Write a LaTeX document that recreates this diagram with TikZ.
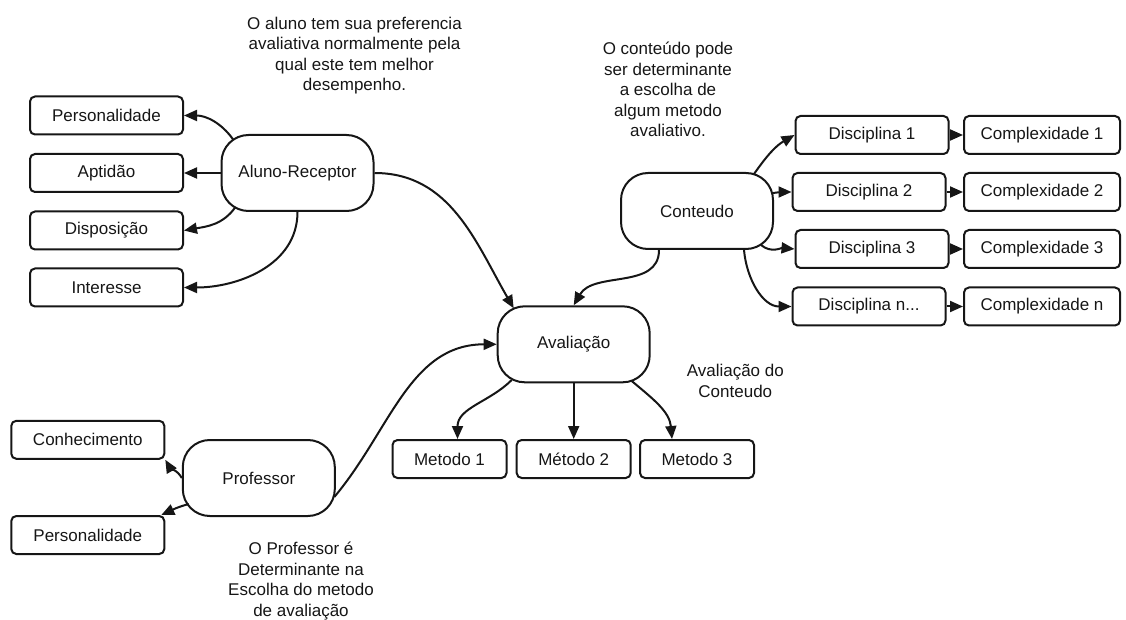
\documentclass[tikz,border=0pt]{standalone}
\usepackage{fontspec}
\setmainfont{Liberation Sans}
\usetikzlibrary{arrows.meta}
\definecolor{ink}{HTML}{161616}
\begin{document}
\begin{tikzpicture}[x=1pt,y=1pt,
  every node/.style={font=\fontsize{17}{20.5}\selectfont, text=ink},
  bigbox/.style={draw=ink, line width=2pt, rounded corners=27pt,
    minimum width=152pt, minimum height=76pt, inner sep=0pt},
  smallbox/.style={draw=ink, line width=2pt, rounded corners=5pt,
    minimum width=153pt, minimum height=38pt, inner sep=0pt},
  methodbox/.style={smallbox, minimum width=114pt},
  compbox/.style={smallbox, minimum width=156pt},
  note/.style={align=center, inner sep=0pt},
  link/.style={draw=ink, line width=2pt, -{Triangle[length=13pt,width=11pt]}}
]
\useasboundingbox (0,0) rectangle (1126,619);

% --- central nodes
\node[bigbox] (ar)   at (297.5,446) {Aluno-Receptor};
\node[bigbox] (cont) at (697,408)   {Conteudo};
\node[bigbox] (av)   at (573.7,274.7) {Avaliação};
\node[bigbox] (prof) at (258.8,141) {Professor};

% --- student attributes
\node[smallbox] (pers1) at (106.5,503.5) {Personalidade};
\node[smallbox] (apt)   at (106.5,446)   {Aptidão};
\node[smallbox] (disp)  at (106.5,388.5) {Disposição};
\node[smallbox] (inter) at (106.5,331.5) {Interesse};

% --- subjects and complexity
\node[smallbox] (d1) at (872,484)   {Disciplina 1};
\node[smallbox] (d2) at (869,427)   {Disciplina 2};
\node[smallbox] (d3) at (872,370)   {Disciplina 3};
\node[smallbox] (dn) at (869,312.5) {Disciplina n...};
\node[compbox] (c1) at (1042,484)   {Complexidade 1};
\node[compbox] (c2) at (1042,427)   {Complexidade 2};
\node[compbox] (c3) at (1042,370)   {Complexidade 3};
\node[compbox] (cn) at (1042,312.5) {Complexidade n};

% --- methods
\node[methodbox] (m1) at (449.5,160) {Metodo 1};
\node[methodbox] (m2) at (573.7,160) {Método 2};
\node[methodbox] (m3) at (697,160)   {Metodo 3};

% --- teacher attributes
\node[smallbox] (conh)  at (87.8,179.2) {Conhecimento};
\node[smallbox] (pers2) at (87.8,84)    {Personalidade};

% --- notes
\node[note] (n1) at (354.5,563.5) {O aluno tem sua preferencia\\avaliativa normalmente pela\\qual este tem melhor\\desempenho.};
\node[note] (n2) at (668,529.5) {O conteúdo pode\\ser determinante\\a escolha de\\algum metodo\\avaliativo.};
\node[note] (n3) at (735.3,238.3) {Avaliação do\\Conteudo};
\node[note] (n4) at (301,38) {O Professor é\\Determinante na\\Escolha do metodo\\de avaliação};

% --- student links
\draw[link] ([shift={(-64,33)}]ar.center) to[out=125,in=0] (pers1.east);
\draw[link] (ar.west) -- (apt.east);
\draw[link] ([shift={(-62,-34)}]ar.center) to[out=235,in=10] (disp.east);
\draw[link] (ar.south) to[out=-90,in=0] (inter.east);
\draw[link] (ar.east) to[out=0,in=120] ([shift={(-60,36)}]av.center);

% --- content links
\draw[link] ([xshift=-38pt]cont.south) to[out=-90,in=60] (av.north);
\draw[link] ([shift={(57,37)}]cont.center) to[out=55,in=210] (d1.west);
\draw[link] ([shift={(74.7,17.7)}]cont.center) to[out=10,in=180] (d2.west);
\draw[link] ([shift={(64,-34)}]cont.center) to[out=-40,in=175] (d3.west);
\draw[link] ([xshift=47pt]cont.south) to[out=-85,in=180] (dn.west);
\draw[link] (d1.east) -- (c1.west);
\draw[link] (d2.east) -- (c2.west);
\draw[link] (d3.east) -- (c3.west);
\draw[link] (dn.east) -- (cn.west);

% --- evaluation to methods
\draw[link] ([shift={(-62,-35.7)}]av.center) to[out=225,in=90] ([xshift=8pt]m1.north);
\draw[link] (av.south) -- (m2.north);
\draw[link] ([shift={(58,-36.7)}]av.center) to[out=-40,in=95] ([xshift=-25pt]m3.north);

% --- teacher links
\draw[link] ([shift={(75.5,-19)}]prof.center) to[out=50,in=180] (av.west);
\draw[link] (prof.west) to[out=120,in=-60] (conh.south east);
\draw[link] ([shift={(-70,-26)}]prof.center) to[out=195,in=25] ([xshift=-4pt]pers2.north east);
\end{tikzpicture}
\end{document}
